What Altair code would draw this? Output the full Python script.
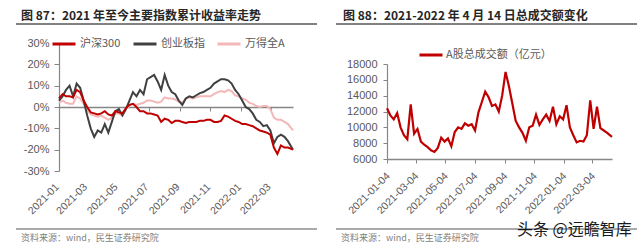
import altair as alt
import pandas as pd

FONT = "Noto Sans CJK SC"
NUM_FONT = "Liberation Sans"

# ---------------- data ----------------
week_dates = list(pd.date_range("2021-01-04", periods=66, freq="7D")) + [pd.Timestamp("2022-04-14")]

series_names = ["沪深300", "创业板指", "万得全A"]
series_colors = ["#C00000", "#404040", "#F3B7B7"]

hs300 = [4, 6, 5, 5, 4.5, 8, 7, 3, 0, -2.5,
         -3, -3.5, -3, -2, -3.5, -4, -2, -2.5, -3, -0.5,
         1, 1.5, 0, -2, -2, -3, -3, -3.5, -4, -7,
         -5.5, -6, -7.5, -6.5, -6.5, -7, -7.5, -7, -7, -7,
         -6.5, -6.5, -6, -6, -7, -7, -6.5, -4, -4.5, -5.5,
         -6.5, -7, -8, -8, -8.5, -9, -10, -11, -11.5, -12,
         -13, -19, -22, -18, -19, -19, -20]
cyb = [3, 5, 8, 10, 5, 11, 9, 3, -4, -10,
       -14, -11, -12, -8, -12, -7, -2, -1, -4, -1,
       3, 7, 5, 8, 6, 13, 14, 15, 12, 8,
       15, 10, 7, 6, 3, 1, 4, 5, 4.5, 5.5,
       6.5, 7, 8, 9, 11, 12, 13, 13, 12.5, 11,
       8, 6, 3, 0, -1, -3, -6, -7, -9, -8.5,
       -11, -17, -14, -13, -14, -16, -20]
wind_a = [2, 3, 2, 1.5, 1.5, 5, 4, 1.5, -1.5, -3.5,
          -4, -4.5, -4, -5, -6, -5, -3, -3, -4, -1,
          0.5, 1.5, 1, 1.5, 2, 3, 3, 2.5, 2, 2.5,
          4.5, 4, 4, 3.5, 2.5, 2, 4, 4.5, 4, 4.5,
          5, 5, 5, 5, 6, 7, 7.5, 7, 8, 7.5,
          5.5, 5, 4, 3.5, 2, 1.5, 0.5, 0, 0.5, 0.5,
          -1, -5, -6, -6, -7, -8, -11]

turnover_name = "A股总成交额（亿元）"
turnover = [12400, 11500, 11000, 11800, 10000, 9000, 8500, 12900, 9200, 9800,
            8200, 7800, 7500, 7100, 6900, 7400, 8700, 8200, 8600, 7600,
            9400, 10000, 9800, 10500, 10200, 10400, 9600, 11900, 13200, 14500,
            13800, 12700, 12900, 12000, 14000, 17000, 15200, 13000, 10800, 10000,
            9300, 8300, 10000, 10200, 11600, 10300, 11000, 11600, 10800, 12600,
            10400, 11400, 11000, 12800, 10000, 9000, 8100, 8300, 8200, 9000,
            13400, 9800, 12600, 9900, 9600, 9300, 8800]

left_ticks = [(2021, 1, 4), (2021, 3, 1), (2021, 5, 1), (2021, 7, 1), (2021, 9, 1),
              (2021, 11, 1), (2022, 1, 1), (2022, 3, 1)]
right_ticks = [(2021, 1, 4), (2021, 3, 4), (2021, 5, 4), (2021, 7, 4), (2021, 9, 4),
               (2021, 11, 4), (2022, 1, 4), (2022, 3, 4)]
left_y_ticks = [-30, -20, -10, 0, 10, 20, 30]
right_y_ticks = [6000, 8000, 10000, 12000, 14000, 16000, 18000]

title_left = "图 87：2021 年至今主要指数累计收益率走势"
title_right = "图 88：2021-2022 年 4 月 14 日总成交额变化"
source_text = "资料来源：wind，民生证券研究院"
watermark = "头条 @远瞻智库"

# ---------------- helpers ----------------
def dt(t):
    return alt.DateTime(year=t[0], month=t[1], date=t[2])

DOMAIN = [dt((2021, 1, 4)), dt((2022, 4, 14))]
AXIS_GREY = "#868686"
LABEL_GREY = "#595959"
TOP = 10          # page y of the title tops (= top padding)
OY = 42           # page y of both plot-area origins


def text_layer(txt, x, y, size, color, weight="normal", baseline="top", font=FONT):
    return alt.Chart(pd.DataFrame({"t": [txt]})).mark_text(
        align="left", baseline=baseline, fontSize=size, font=font,
        fontWeight=weight, color=color
    ).encode(text="t:N", x=alt.value(x), y=alt.value(y))


def hrule(x1, x2, y, color, width):
    return alt.Chart(pd.DataFrame({"a": [0]})).mark_rule(
        color=color, strokeWidth=width
    ).encode(x=alt.value(x1), x2=alt.value(x2), y=alt.value(y))


# ---------------- left panel ----------------
LOX = 58
LW, LH = 234, 128
rows = []
for name, vals in zip(series_names, [hs300, cyb, wind_a]):
    for d, v in zip(week_dates, vals):
        rows.append({"date": d, "series": name, "value": v})
left_df = pd.DataFrame(rows)

left_legend = alt.Legend(
    orient="none", legendX=-8, legendY=-12, direction="horizontal", title=None,
    symbolType="stroke", symbolSize=529, symbolStrokeWidth=3,
    labelFontSize=11, labelFont=FONT, labelColor=LABEL_GREY,
    columnPadding=6, labelOffset=3, padding=0,
)

left_x = alt.X(
    "date:T",
    scale=alt.Scale(domain=DOMAIN),
    axis=alt.Axis(
        title=None, values=[dt(t) for t in left_ticks], format="%Y-%m",
        labelAngle=-45, labelAlign="right", labelBaseline="middle",
        offset=-LH / 2, tickSize=4, labelPadding=74, labelOffset=-2,
        labelOverlap=False, labelFlush=False,
        domainColor=AXIS_GREY, tickColor=AXIS_GREY, domainWidth=1.5,
        grid=False, labelFontSize=10.5, labelFont=NUM_FONT, labelColor=LABEL_GREY,
    ),
)
left_y = alt.Y(
    "value:Q",
    scale=alt.Scale(domain=[-30, 30], nice=False, zero=False),
    axis=alt.Axis(
        title=None, values=left_y_ticks, labelExpr="datum.value + '%'",
        tickSize=5, labelPadding=5, grid=False,
        domainColor=AXIS_GREY, tickColor=AXIS_GREY, domainWidth=1.2,
        labelFontSize=11, labelFont=NUM_FONT, labelColor=LABEL_GREY,
    ),
)
left_color = alt.Color(
    "series:N", scale=alt.Scale(domain=series_names, range=series_colors),
    legend=left_legend,
)

left_layers = []
for name in ["万得全A", "创业板指", "沪深300"]:
    left_layers.append(
        alt.Chart(left_df).transform_filter(alt.datum.series == name)
        .mark_line(strokeWidth=2)
        .encode(x=left_x, y=left_y, color=left_color)
    )

left = alt.layer(
    *left_layers,
    text_layer(title_left, 20 - LOX, TOP - OY, 12, "#262626", weight="bold"),
    hrule(15 - LOX, 316 - LOX, 23 - OY, "#595959", 1.5),
    hrule(15 - LOX, 316 - LOX, 228 - OY, "#8C8C8C", 1.5),
    text_layer(source_text, 20 - LOX, 237 - OY, 9, "#7F7F7F", baseline="middle"),
).properties(width=LW, height=LH)

# ---------------- right panel ----------------
ROX = 384
RW, RH = 225, 116          # plot spans page y 42..158
R_TOP = 63 - OY            # page y of the 18000 level, relative to origin
right_df = pd.DataFrame({"date": week_dates, "series": turnover_name, "value": turnover})

right_legend = alt.Legend(
    orient="none", legendX=31, legendY=-1, direction="horizontal", title=None,
    symbolType="stroke", symbolSize=529, symbolStrokeWidth=3,
    labelFontSize=11, labelFont=FONT, labelColor=LABEL_GREY,
    labelOffset=2, padding=0, labelLimit=300,
)

right_line = alt.Chart(right_df).mark_line(strokeWidth=2.2).encode(
    x=alt.X(
        "date:T",
        scale=alt.Scale(domain=DOMAIN),
        axis=alt.Axis(
            title=None, values=[dt(t) for t in right_ticks], format="%Y-%m-%d",
            labelAngle=-45, labelAlign="right", labelBaseline="middle",
            tickSize=4, labelPadding=11, labelOffset=1,
            labelOverlap=False, labelFlush=False,
            domainColor=AXIS_GREY, tickColor=AXIS_GREY, domainWidth=1.5,
            grid=False, labelFontSize=10.5, labelFont=NUM_FONT, labelColor=LABEL_GREY,
        ),
    ),
    y=alt.Y(
        "value:Q",
        scale=alt.Scale(domain=[6000, 18000], range=[RH, R_TOP], nice=False, zero=False),
        axis=alt.Axis(
            title=None, values=right_y_ticks, format="d",
            tickSize=4, labelPadding=6, grid=False,
            domainColor=AXIS_GREY, tickColor=AXIS_GREY, domainWidth=1.2,
            labelFontSize=11, labelFont=NUM_FONT, labelColor=LABEL_GREY,
        ),
    ),
    color=alt.Color(
        "series:N", scale=alt.Scale(domain=[turnover_name], range=["#C00000"]),
        legend=right_legend,
    ),
)

right = alt.layer(
    right_line,
    text_layer(title_right, 340 - ROX, TOP - OY, 12, "#262626", weight="bold"),
    hrule(333 - ROX, 634 - ROX, 23 - OY, "#595959", 1.5),
    hrule(333 - ROX, 634 - ROX, 228 - OY, "#8C8C8C", 1.5),
    text_layer(source_text, 338 - ROX, 237 - OY, 9, "#7F7F7F", baseline="middle"),
    text_layer(watermark, 514 - ROX, 229 - OY, 16, "#1A1A1A", baseline="middle"),
).properties(width=RW, height=RH)

chart = alt.hconcat(left, right, spacing=17).resolve_scale(
    color="independent"
).properties(
    padding={"left": 15, "top": TOP, "right": 0, "bottom": 0}
).configure(font=FONT, view=alt.ViewConfig(stroke=None))

chart.save("out.html", embed_options={"renderer": "svg", "actions": False})
